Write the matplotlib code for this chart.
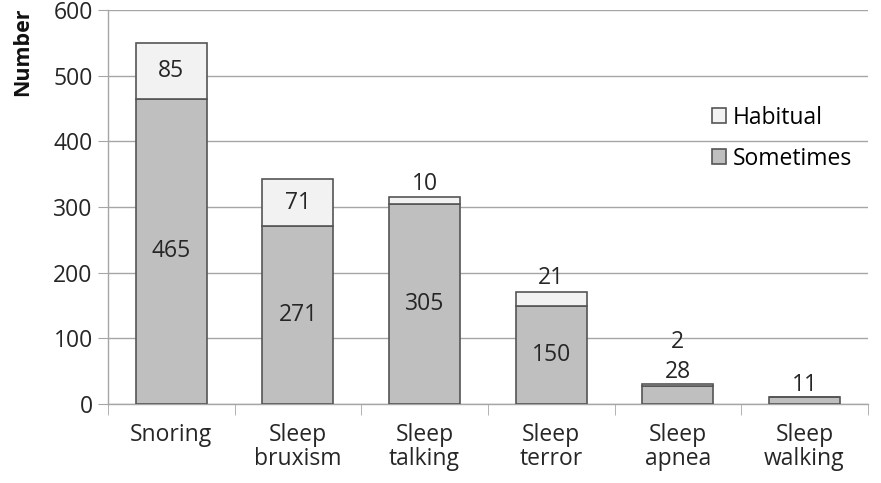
import numpy as np
import matplotlib.pyplot as plt
from matplotlib.ticker import FixedLocator

plt.rcParams['font.family'] = ['Open Sans', 'DejaVu Sans']

categories = ["Snoring", "Sleep\nbruxism", "Sleep\ntalking", "Sleep\nterror", "Sleep\napnea", "Sleep\nwalking"]
sometimes = [465, 271, 305, 150, 28, 11]
habitual = [85, 71, 10, 21, 2, 0]

c_some = "#BFBFBF"
c_hab = "#F2F2F2"
edge = "#555555"
grid = "#A6A6A6"
txt = "#262626"

fig = plt.figure(figsize=(8.81, 4.83), dpi=100)
ax = fig.add_axes([0.1226, 0.1636, 0.8624, 0.8154])

x = np.arange(len(categories))
w = 0.56
ax.bar(x, sometimes, w, color=c_some, edgecolor=edge, linewidth=1.2, label="Sometimes", zorder=3)
ax.bar(x, habitual, w, bottom=sometimes, color=c_hab, edgecolor=edge, linewidth=1.2, label="Habitual", zorder=3)

fs = 16.5
for i, (s, h) in enumerate(zip(sometimes, habitual)):
    top = s + h
    if s >= 100:
        ax.text(i, s / 2, str(s), ha="center", va="center", fontsize=fs, color=txt, zorder=4)
        if h >= 50:
            ax.text(i, s + h / 2, str(h), ha="center", va="center", fontsize=fs, color=txt, zorder=4)
        elif h > 0:
            ax.annotate(str(h), (i, top), xytext=(0, 1), textcoords="offset points",
                        ha="center", va="bottom", fontsize=fs, color=txt)
    else:
        ax.annotate(str(s), (i, top), xytext=(0, 0), textcoords="offset points",
                    ha="center", va="bottom", fontsize=fs, color=txt)
        if h > 0:
            ax.annotate(str(h), (i, top), xytext=(0, 22), textcoords="offset points",
                        ha="center", va="bottom", fontsize=fs, color=txt)

ax.set_xlim(-0.5, len(categories) - 0.5)
ax.set_ylim(0, 600)
ax.set_yticks(range(0, 601, 100))
ax.yaxis.grid(True, color=grid, linewidth=1, zorder=0)
ax.set_axisbelow(True)

ax.set_xticks(x)
ax.set_xticklabels(categories, fontsize=fs, color=txt, linespacing=0.95)
ax.xaxis.set_minor_locator(FixedLocator(np.arange(-0.5, len(categories), 1.0)))
ax.tick_params(axis="x", which="major", length=0, pad=14)
ax.tick_params(axis="x", which="minor", length=8, color=grid)
ax.tick_params(axis="y", length=7, color=grid, labelsize=fs, labelcolor=txt, pad=4)

for side in ["top", "right"]:
    ax.spines[side].set_visible(False)
for side in ["left", "bottom"]:
    ax.spines[side].set_color(grid)
    ax.spines[side].set_linewidth(1)

fig.text(0.026, 0.985, "Number", rotation=90, ha="center", va="top", fontsize=15.5, fontweight="bold", color="#111111")

h1, l1 = ax.get_legend_handles_labels()
ax.legend(h1[::-1], l1[::-1], loc="upper left", bbox_to_anchor=(0.768, 0.81), frameon=False,
          fontsize=fs, handlelength=0.6, handleheight=0.6, handletextpad=0.3, labelspacing=0.75)

fig.savefig("out.png", dpi=100)
